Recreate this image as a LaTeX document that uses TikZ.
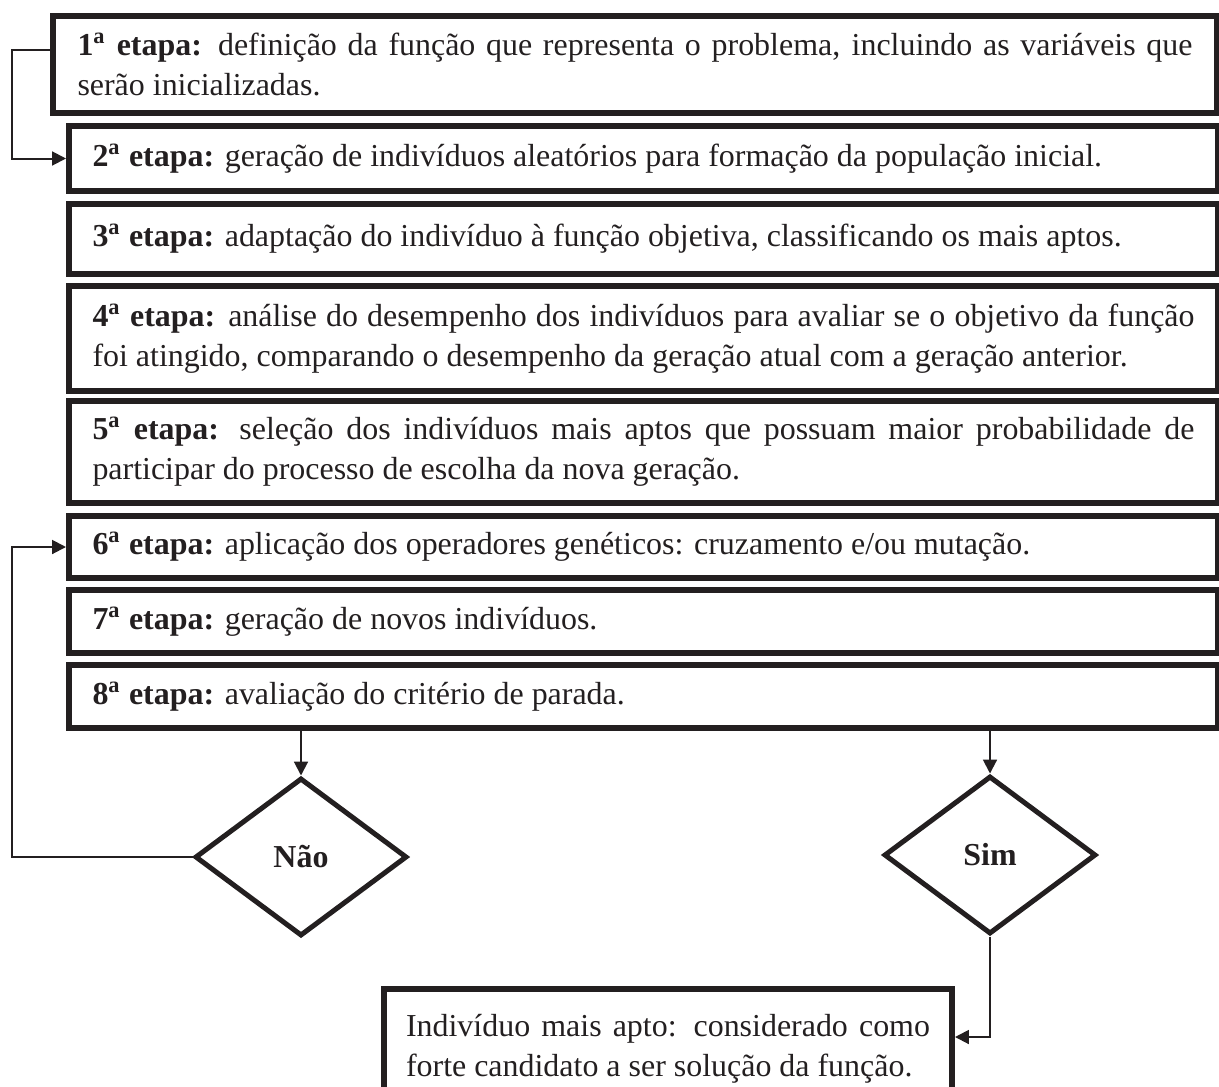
\documentclass[tikz,border=0pt]{standalone}
\usepackage{fontspec}
\setmainfont{Liberation Serif}
\usetikzlibrary{arrows.meta,shapes.geometric}
\definecolor{ink}{HTML}{231F20}
\newcommand\etp[1]{\textbf{#1\textsuperscript{a} etapa:}}
\begin{document}
\begin{tikzpicture}[x=0.36pt,y=-0.36pt,
  stepbox/.style={draw=ink, line width=2.16pt, anchor=north west, inner sep=2pt,
    align=justify, font=\fontsize{11.5pt}{14.4pt}\selectfont, text=ink},
  decbox/.style={draw=ink, line width=1.8pt, diamond, inner sep=0pt,
    minimum width=76.32pt, minimum height=56.88pt, font=\fontsize{11.5pt}{14.4pt}\selectfont\bfseries, text=ink},
  conn/.style={draw=ink, line width=0.72pt, -{Triangle[length=5pt,width=5pt]}}]
\useasboundingbox (0,0) rectangle (1219,1086);
\clip (0,0) rectangle (1219,1086);

\node[stepbox, minimum width=419.04pt, minimum height=34.92pt, text width=401.4pt] (b1) at (50,13)
 {\etp{1} definição da função que representa o problema, incluindo as variáveis que\linebreak serão inicializadas.};
\node[stepbox, minimum width=413.64pt, minimum height=23.4pt, text width=396.72pt] (b2) at (66,123)
 {\etp{2} geração de indivíduos aleatórios para formação da população inicial.};
\node[stepbox, minimum width=413.64pt, minimum height=25.2pt, text width=396.72pt] (b3) at (66,201)
 {\etp{3} adaptação do indivíduo à função objetiva, classificando os mais aptos.};
\node[stepbox, minimum width=413.64pt, minimum height=37.8pt, text width=396.72pt] (b4) at (66,283)
 {\etp{4} análise do desempenho dos indivíduos para avaliar se o objetivo da função\linebreak foi atingido, comparando o desempenho da geração atual com a geração anterior.};
\node[stepbox, minimum width=413.64pt, minimum height=36.72pt, text width=396.72pt] (b5) at (66,398)
 {\etp{5} seleção dos indivíduos mais aptos que possuam maior probabilidade de\linebreak participar do processo de escolha da nova geração.};
\node[stepbox, minimum width=413.64pt, minimum height=22.32pt, text width=396.72pt] (b6) at (66,513)
 {\etp{6} aplicação dos operadores genéticos: cruzamento e/ou mutação.};
\node[stepbox, minimum width=413.64pt, minimum height=22.68pt, text width=396.72pt] (b7) at (66,587)
 {\etp{7} geração de novos indivíduos.};
\node[stepbox, minimum width=413.64pt, minimum height=22.68pt, text width=396.72pt] (b8) at (66,662)
 {\etp{8} avaliação do critério de parada.};

\node[decbox] (nao) at (301,857) {Não};
\node[decbox] (sim) at (990,855) {Sim};

\node[stepbox, minimum width=204.48pt, minimum height=43.2pt, text width=188.64pt] (fin) at (381,986)
 {Indivíduo mais apto: considerado como\linebreak forte candidato a ser solução da função.};

\coordinate (c1) at (12,50);
\coordinate (c2) at (12,857);
\coordinate (c3) at (990,1037);

\draw[conn] (b1.west |- c1) -- (c1) |- (b2.west);
\draw[conn] (nao.west) -- (c2) |- (b6.west);
\draw[conn] (nao.north |- b8.south) -- (nao.north);
\draw[conn] (sim.north |- b8.south) -- (sim.north);
\draw[conn] (sim.south) -- (c3) -- (fin.east |- c3);
\end{tikzpicture}
\end{document}
